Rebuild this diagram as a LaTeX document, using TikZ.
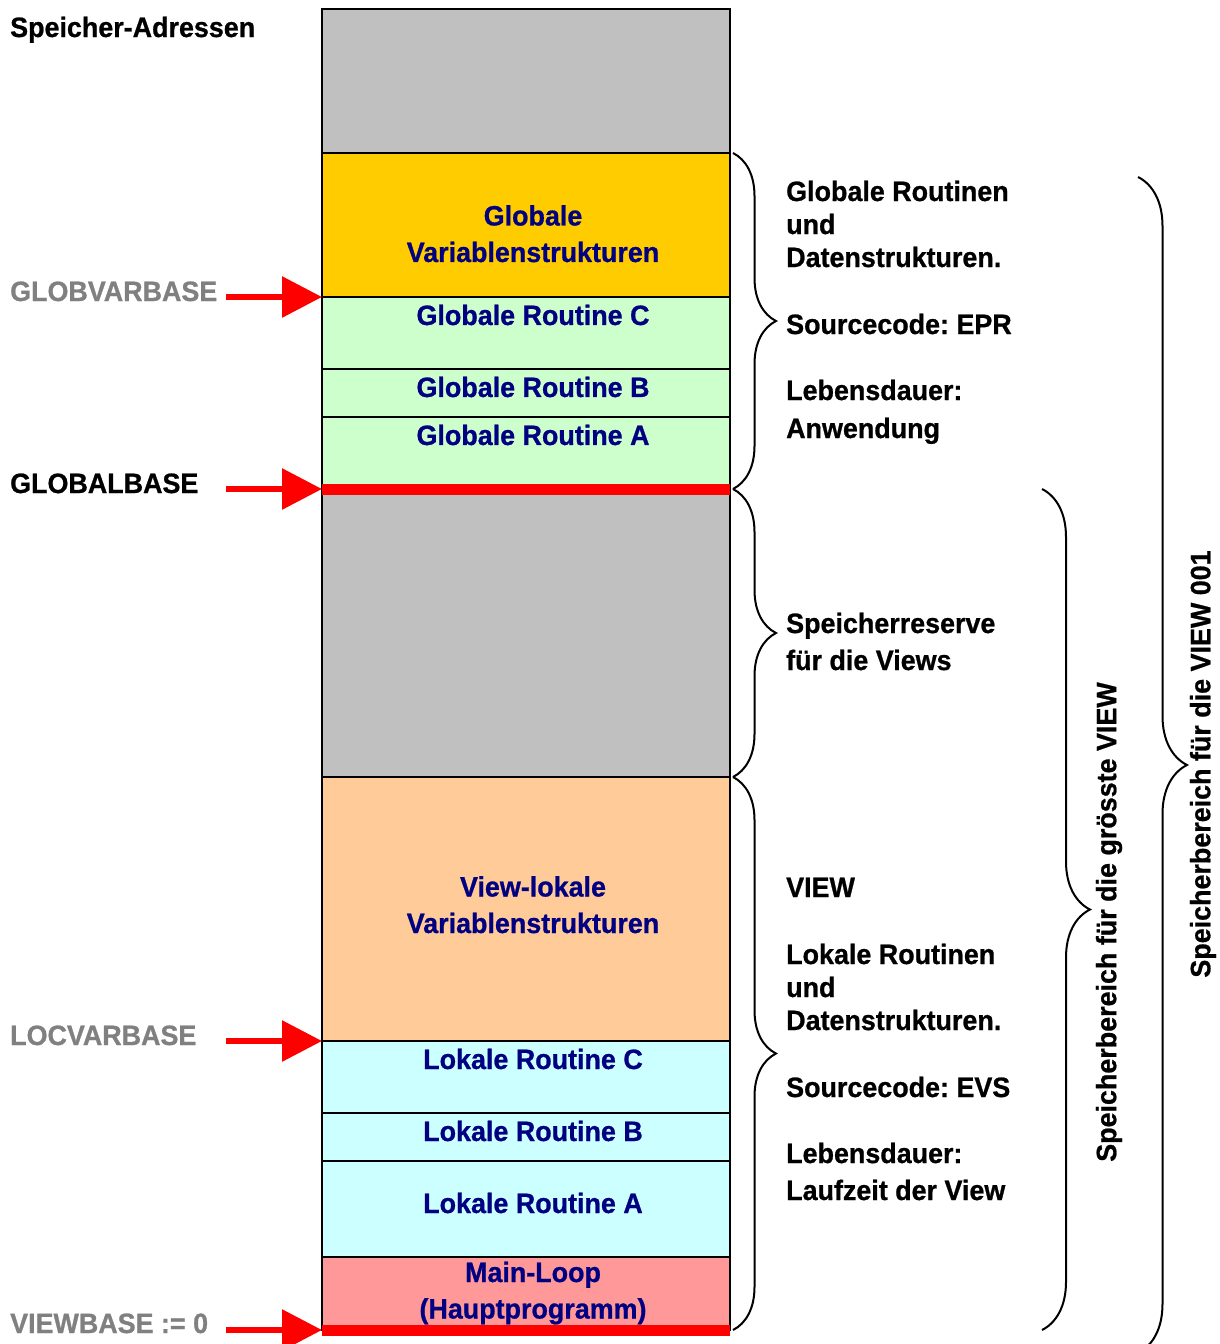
\documentclass[tikz,border=0pt]{standalone}
\usepackage{fontspec}
\setmainfont[FakeStretch=0.96,BoldFeatures={FakeBold=0.8}]{Liberation Sans}
\usetikzlibrary{positioning,arrows.meta,decorations.pathreplacing}
\frenchspacing
\definecolor{grau}{HTML}{C0C0C0}
\definecolor{gelb}{HTML}{FFCC00}
\definecolor{hgruen}{HTML}{CCFFCC}
\definecolor{apricot}{HTML}{FFCC99}
\definecolor{hcyan}{HTML}{CCFFFF}
\definecolor{rosa}{HTML}{FF9999}
\definecolor{navyblau}{HTML}{000080}
\definecolor{grautext}{HTML}{808080}
\tikzset{
	mem/.style={draw,line width=2pt,minimum width=408pt,inner sep=0pt,outer sep=0pt},
	lbl/.style={text=navyblau,font=\bfseries\fontsize{28}{36.5}\selectfont,inner sep=0pt,align=center,anchor=north},
	txt/.style={font=\bfseries\fontsize{28}{33}\selectfont,inner sep=0pt,anchor=base west},
	ptr/.style={-{Triangle[length=40pt,width=40pt]},red,line width=6pt},
	redline/.style={red,line width=11pt},
	klammer/.style={decorate,decoration={brace,amplitude=#1},line width=2pt}
}

\begin{document}
\begin{tikzpicture}[x=1pt,y=-1pt]
	\useasboundingbox (0,0) rectangle (1220,1344);
	% speicher
	\node[mem,fill=grau,minimum height=144pt] (frei) at (526,81) {};
	\node[mem,fill=gelb,minimum height=144pt] (gvar) [below=0pt of frei] {};
	\node[mem,fill=hgruen,minimum height=72pt] (grc) [below=0pt of gvar] {};
	\node[mem,fill=hgruen,minimum height=48pt] (grb) [below=0pt of grc] {};
	\node[mem,fill=hgruen,minimum height=72pt] (gra) [below=0pt of grb] {};
	\node[mem,fill=grau,minimum height=288pt] (res) [below=0pt of gra] {};
	\node[mem,fill=apricot,minimum height=264pt] (lvar) [below=0pt of res] {};
	\node[mem,fill=hcyan,minimum height=72pt] (lrc) [below=0pt of lvar] {};
	\node[mem,fill=hcyan,minimum height=48pt] (lrb) [below=0pt of lrc] {};
	\node[mem,fill=hcyan,minimum height=96pt] (lra) [below=0pt of lrb] {};
	\node[mem,fill=rosa,minimum height=73pt] (main) [below=0pt of lra] {};
	\draw[redline] (gra.south west) -- (gra.south east);
	\draw[redline] (main.south west) -- (main.south east);

	% beschriftung
	\node[lbl] (tgvar) [below=52pt of gvar.north,xshift=7pt] {Globale\\Variablenstrukturen};
	\node[lbl] (tgrc) [below=7.5pt of grc.north,xshift=7pt] {Globale Routine C};
	\node[lbl] (tgrb) [below=7.5pt of grb.north,xshift=7pt] {Globale Routine B};
	\node[lbl] (tgra) [below=7.5pt of gra.north,xshift=7pt] {Globale Routine A};
	\node[lbl] (tlvar) [below=99pt of lvar.north,xshift=7pt] {View-lokale\\Variablenstrukturen};
	\node[lbl] (tlrc) [below=7.5pt of lrc.north,xshift=7pt] {Lokale Routine C};
	\node[lbl] (tlrb) [below=7.5pt of lrb.north,xshift=7pt] {Lokale Routine B};
	\node[lbl] (tlra) [below=31.5pt of lra.north,xshift=7pt] {Lokale Routine A};
	\node[lbl] (tmain) [below=4.5pt of main.north,xshift=7pt] {Main-Loop\\(Hauptprogramm)};

	% adressen
	\node[txt] (adr) at (10,37) {Speicher-Adressen};
	\node[txt,text=grautext] (lgvar) at (10,301) {GLOBVARBASE};
	\node[txt] (lglob) at (10,493) {GLOBALBASE};
	\node[txt,text=grautext] (llvar) at (10,1045) {LOCVARBASE};
	\node[txt,text=grautext] (lview) at (10,1333) {VIEWBASE := 0};
	\coordinate[left=96pt of gvar.south west] (pgvar);
	\coordinate[left=96pt of gra.south west] (pglob);
	\coordinate[left=96pt of lvar.south west] (plvar);
	\coordinate[left=96pt of main.south west] (pview);
	\draw[ptr] (pgvar) -- (gvar.south west);
	\draw[ptr] (pglob) -- (gra.south west);
	\draw[ptr] (plvar) -- (lvar.south west);
	\draw[ptr] (pview) -- (main.south west);

	% klammern
	\draw[klammer=43pt] ([xshift=3pt]gvar.north east) -- ([xshift=3pt]gra.south east);
	\draw[klammer=43pt] ([xshift=3pt]gra.south east) -- ([xshift=3pt]res.south east);
	\draw[klammer=43pt] ([xshift=3pt]lvar.north east) -- ([xshift=3pt]main.south east);
	\draw[klammer=48pt] ([xshift=312pt]gra.south east) -- ([xshift=312pt]main.south east);
	\coordinate (k5a) at (1138,177);
	\coordinate (k5b) at (1138,1353);
	\draw[klammer=49pt] (k5a) -- (k5b);

	\foreach \y/\t [count=\i] in {191/Globale Routinen,224/und,257/Datenstrukturen.,324/Sourcecode: EPR,390/Lebensdauer:,428/Anwendung,623/Speicherreserve,660/für die Views,887/VIEW,954/Lokale Routinen,987/und,1020/Datenstrukturen.,1087/Sourcecode: EVS,1153/Lebensdauer:,1190/Laufzeit der View}
		\node[txt] (r\i) at (786,\y+10) {\t};
	\node[txt,anchor=center,rotate=90] (vmax) at (1109,922) {Speicherbereich für die grösste VIEW};
	\node[txt,anchor=center,rotate=90] (v001) at (1203,764) {Speicherbereich für die VIEW 001};
\end{tikzpicture}
\end{document}
